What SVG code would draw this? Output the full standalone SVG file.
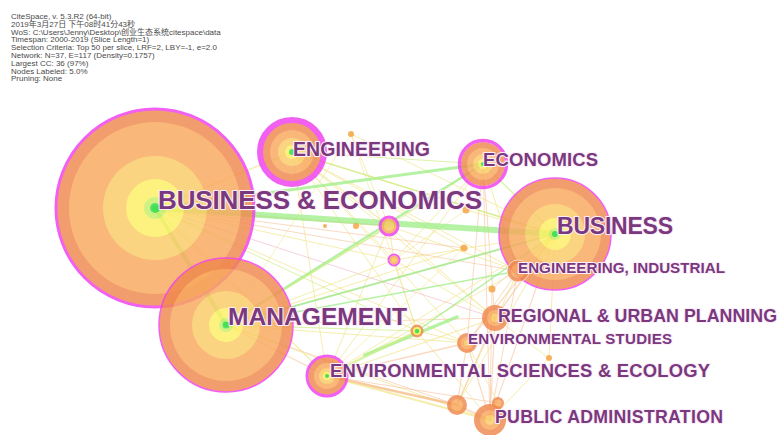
<svg xmlns="http://www.w3.org/2000/svg" width="780" height="435" viewBox="0 0 780 435">
  <style>
    .hdr { font-family: "Liberation Sans", "Noto Sans CJK SC", Arial, sans-serif; font-size: 8px; fill: #4a4a4a; }
    .lbl { font-family: "Liberation Sans", Arial, sans-serif; font-weight: bold; fill: #7a387d; stroke: #fbeefb; stroke-width: 2.2px; stroke-linejoin: round; paint-order: stroke; }
    .lk { fill: none; stroke-linecap: round; }
    .g { stroke: #9cee84; stroke-opacity: 0.75; }
    .yg { stroke: #cdee86; stroke-opacity: 0.7; }
    .y { stroke: #f1e58c; stroke-opacity: 0.7; }
    .o { stroke: #f6c29a; stroke-opacity: 0.6; }
    .oo { stroke: #f5ad6e; stroke-opacity: 0.65; }
    .pk { stroke: #f2b4c4; stroke-opacity: 0.6; }
    .node { opacity: 0.82; }
    .c1 { fill: #f0884e; }
    .c2 { fill: #f8a95e; }
    .c3 { fill: #fbcb66; }
    .c4 { fill: #fdf064; }
    .c5 { fill: #c6f06a; }
    .c6 { fill: #2fdc46; }
    .pr { fill: none; stroke: #f03ef0; }
    .dot { fill: #f5a241; }
  </style>

  <!-- run information -->
  <g id="run-info">
    <text class="hdr" x="11" y="19">CiteSpace, v. 5.3.R2 (64-bit)</text>
    <text class="hdr" x="11" y="26.8">2019年3月27日 下午08时41分43秒</text>
    <text class="hdr" x="11" y="34.6">WoS: C:\Users\Jenny\Desktop\创业生态系统citespace\data</text>
    <text class="hdr" x="11" y="42.4">Timespan: 2000-2019 (Slice Length=1)</text>
    <text class="hdr" x="11" y="50.2">Selection Criteria: Top 50 per slice, LRF=2, LBY=-1, e=2.0</text>
    <text class="hdr" x="11" y="58">Network: N=37, E=117 (Density=0.1757)</text>
    <text class="hdr" x="11" y="65.8">Largest CC: 36 (97%)</text>
    <text class="hdr" x="11" y="73.6">Nodes Labeled: 5.0%</text>
    <text class="hdr" x="11" y="81.4">Pruning: None</text>
  </g>

  <!-- co-occurrence links -->
  <g id="links">
    <!-- thin yellow / orange / pink mesh -->
    <line class="lk y" x1="292" y1="152" x2="389" y2="226" stroke-width="1.2"/>
    <line class="lk y" x1="292" y1="152" x2="394" y2="260" stroke-width="1"/>
    <line class="lk y" x1="292" y1="152" x2="555" y2="234" stroke-width="1.2"/>
    <line class="lk y" x1="292" y1="152" x2="518" y2="271" stroke-width="1"/>
    <line class="lk y" x1="292" y1="152" x2="495" y2="318" stroke-width="1"/>
    <line class="lk y" x1="292" y1="152" x2="417" y2="331" stroke-width="1"/>
    <line class="lk y" x1="292" y1="152" x2="464" y2="248" stroke-width="1"/>
    <line class="lk yg" x1="292" y1="152" x2="483" y2="164" stroke-width="1"/>
    <line class="lk y" x1="292" y1="152" x2="327" y2="376" stroke-width="1"/>
    <line class="lk y" x1="292" y1="152" x2="467" y2="343" stroke-width="1"/>
    <line class="lk y" x1="351" y1="134" x2="389" y2="226" stroke-width="1"/>
    <line class="lk y" x1="351" y1="134" x2="555" y2="234" stroke-width="1"/>
    <line class="lk y" x1="351" y1="134" x2="417" y2="331" stroke-width="0.8"/>
    <line class="lk y" x1="351" y1="134" x2="226" y2="325" stroke-width="0.8"/>
    <line class="lk y" x1="483" y1="164" x2="389" y2="226" stroke-width="1"/>
    <line class="lk y" x1="483" y1="164" x2="394" y2="260" stroke-width="1"/>
    <line class="lk y" x1="483" y1="164" x2="327" y2="376" stroke-width="1"/>
    <line class="lk o" x1="483" y1="164" x2="495" y2="318" stroke-width="1"/>
    <line class="lk o" x1="483" y1="164" x2="467" y2="343" stroke-width="1"/>
    <line class="lk o" x1="483" y1="164" x2="490" y2="420" stroke-width="1"/>
    <line class="lk yg" x1="483" y1="164" x2="555" y2="234" stroke-width="1.5"/>
    <line class="lk y" x1="483" y1="164" x2="518" y2="271" stroke-width="1"/>
    <line class="lk y" x1="389" y1="226" x2="394" y2="260" stroke-width="1.2"/>
    <line class="lk y" x1="389" y1="226" x2="518" y2="271" stroke-width="1"/>
    <line class="lk y" x1="389" y1="226" x2="495" y2="318" stroke-width="1"/>
    <line class="lk y" x1="389" y1="226" x2="226" y2="325" stroke-width="1"/>
    <line class="lk y" x1="389" y1="226" x2="327" y2="376" stroke-width="1"/>
    <line class="lk y" x1="394" y1="260" x2="417" y2="331" stroke-width="1"/>
    <line class="lk y" x1="394" y1="260" x2="495" y2="318" stroke-width="1"/>
    <line class="lk y" x1="394" y1="260" x2="555" y2="234" stroke-width="1"/>
    <line class="lk o" x1="155" y1="208" x2="389" y2="226" stroke-width="1.6"/>
    <line class="lk o" x1="155" y1="208" x2="464" y2="248" stroke-width="1"/>
    <line class="lk o" x1="155" y1="208" x2="518" y2="271" stroke-width="1"/>
    <line class="lk pk" x1="155" y1="208" x2="495" y2="318" stroke-width="1"/>
    <line class="lk y" x1="155" y1="208" x2="467" y2="343" stroke-width="1"/>
    <line class="lk yg" x1="155" y1="208" x2="417" y2="331" stroke-width="1"/>
    <line class="lk y" x1="155" y1="208" x2="394" y2="260" stroke-width="1"/>
    <line class="lk y" x1="155" y1="208" x2="327" y2="376" stroke-width="1.2"/>
    <line class="lk y" x1="155" y1="208" x2="292" y2="152" stroke-width="1.5"/>
    <line class="lk pk" x1="226" y1="325" x2="555" y2="234" stroke-width="1"/>
    <line class="lk y" x1="226" y1="325" x2="464" y2="248" stroke-width="1"/>
    <line class="lk o" x1="226" y1="325" x2="495" y2="318" stroke-width="1"/>
    <line class="lk y" x1="226" y1="325" x2="467" y2="343" stroke-width="1"/>
    <line class="lk o" x1="226" y1="325" x2="457" y2="405" stroke-width="1"/>
    <line class="lk y" x1="226" y1="325" x2="490" y2="420" stroke-width="1"/>
    <line class="lk y" x1="226" y1="325" x2="394" y2="260" stroke-width="1"/>
    <line class="lk yg" x1="226" y1="325" x2="417" y2="331" stroke-width="1.2"/>
    <line class="lk o" x1="226" y1="325" x2="327" y2="376" stroke-width="1.2"/>
    <line class="lk y" x1="327" y1="376" x2="555" y2="234" stroke-width="1"/>
    <line class="lk y" x1="327" y1="376" x2="518" y2="271" stroke-width="1"/>
    <line class="lk y" x1="327" y1="376" x2="495" y2="318" stroke-width="1.2"/>
    <line class="lk o" x1="327" y1="376" x2="467" y2="343" stroke-width="1.5"/>
    <line class="lk oo" x1="327" y1="376" x2="457" y2="405" stroke-width="2.5"/>
    <line class="lk y" x1="327" y1="376" x2="490" y2="420" stroke-width="2"/>
    <line class="lk o" x1="327" y1="376" x2="498" y2="403" stroke-width="1"/>
    <line class="lk o" x1="555" y1="234" x2="490" y2="420" stroke-width="1.2"/>
    <line class="lk o" x1="555" y1="234" x2="495" y2="318" stroke-width="1.5"/>
    <line class="lk o" x1="555" y1="234" x2="467" y2="343" stroke-width="1.2"/>
    <line class="lk y" x1="555" y1="234" x2="457" y2="405" stroke-width="1"/>
    <line class="lk o" x1="555" y1="234" x2="518" y2="271" stroke-width="1.5"/>
    <line class="lk y" x1="555" y1="234" x2="549" y2="358" stroke-width="1"/>
    <line class="lk o" x1="555" y1="234" x2="492" y2="289" stroke-width="1"/>
    <line class="lk y" x1="555" y1="234" x2="466" y2="210" stroke-width="1"/>
    <line class="lk o" x1="518" y1="271" x2="490" y2="420" stroke-width="1"/>
    <line class="lk y" x1="518" y1="271" x2="457" y2="405" stroke-width="1"/>
    <line class="lk o" x1="518" y1="271" x2="467" y2="343" stroke-width="1"/>
    <line class="lk o" x1="495" y1="318" x2="490" y2="420" stroke-width="1.2"/>
    <line class="lk o" x1="495" y1="318" x2="457" y2="405" stroke-width="1.2"/>
    <line class="lk y" x1="495" y1="318" x2="549" y2="358" stroke-width="1"/>
    <line class="lk o" x1="467" y1="343" x2="490" y2="420" stroke-width="1.2"/>
    <line class="lk o" x1="467" y1="343" x2="457" y2="405" stroke-width="1.2"/>
    <line class="lk y" x1="467" y1="343" x2="498" y2="403" stroke-width="1"/>
    <line class="lk o" x1="457" y1="405" x2="490" y2="420" stroke-width="1.5"/>
    <line class="lk y" x1="417" y1="331" x2="490" y2="420" stroke-width="1"/>
    <line class="lk y" x1="417" y1="331" x2="467" y2="343" stroke-width="1"/>
    <line class="lk o" x1="492" y1="289" x2="490" y2="420" stroke-width="1"/>
    <line class="lk y" x1="549" y1="358" x2="490" y2="420" stroke-width="1"/>
    <line class="lk y" x1="466" y1="210" x2="394" y2="260" stroke-width="0.8"/>
    <line class="lk y" x1="464" y1="248" x2="327" y2="376" stroke-width="0.8"/>

    <!-- heavier green links -->
    <line class="lk g" x1="155" y1="208" x2="555" y2="234" stroke-width="6"/>
    <line class="lk g" x1="155" y1="208" x2="226" y2="325" stroke-width="4"/>
    <line class="lk g" x1="155" y1="208" x2="483" y2="164" stroke-width="3"/>
    <line class="lk g" x1="226" y1="325" x2="483" y2="164" stroke-width="2.5"/>
    <line class="lk g" x1="226" y1="325" x2="555" y2="234" stroke-width="2"/>
    <line class="lk g" x1="226" y1="325" x2="518" y2="271" stroke-width="1.5"/>
    <line class="lk yg" x1="226" y1="325" x2="389" y2="226" stroke-width="1.5"/>
    <line class="lk g" x1="417" y1="331" x2="555" y2="234" stroke-width="1.5"/>
    <line class="lk yg" x1="292" y1="152" x2="555" y2="234" stroke-width="1.5"/>
    <line class="lk g" x1="365" y1="355" x2="457" y2="317" stroke-width="3.5"/>
    <line class="lk yg" x1="327" y1="376" x2="417" y2="331" stroke-width="2"/>
  </g>

  <!-- node rings -->
  <g id="n-business-economics" class="node">
    <circle class="c1" cx="155" cy="208" r="99"/>
    <circle class="c2" cx="155" cy="208" r="86"/>
    <circle class="c3" cx="155" cy="208" r="52"/>
    <circle class="c4" cx="155" cy="208" r="29"/>
    <circle class="c5" cx="155" cy="208" r="11"/>
    <circle class="c6" cx="155" cy="208" r="5"/>
    <circle class="pr" cx="155" cy="208" r="99" stroke-width="3"/>
  </g>

  <g id="n-management" class="node">
    <circle class="c1" cx="226" cy="325" r="67"/>
    <circle class="c2" cx="226" cy="325" r="56"/>
    <circle class="c3" cx="226" cy="325" r="34"/>
    <circle class="c4" cx="226" cy="325" r="17"/>
    <circle class="c5" cx="226" cy="325" r="7"/>
    <circle class="c6" cx="226" cy="325" r="3.5"/>
    <circle class="pr" cx="226" cy="325" r="67" stroke-width="1.5"/>
  </g>

  <g id="n-engineering" class="node">
    <circle class="c1" cx="292" cy="152" r="30"/>
    <circle class="c2" cx="292" cy="152" r="22"/>
    <circle class="c3" cx="292" cy="152" r="14"/>
    <circle class="c4" cx="292" cy="152" r="7"/>
    <circle class="c6" cx="292" cy="152" r="3"/>
    <circle class="pr" cx="292" cy="152" r="32" stroke-width="6"/>
  </g>

  <g id="n-economics" class="node">
    <circle class="c1" cx="483" cy="164" r="22"/>
    <circle class="c2" cx="483" cy="164" r="16"/>
    <circle class="c3" cx="483" cy="164" r="10"/>
    <circle class="c4" cx="483" cy="164" r="5"/>
    <circle class="c6" cx="483" cy="164" r="2"/>
    <circle class="pr" cx="483" cy="164" r="23.5" stroke-width="3.5"/>
  </g>

  <g id="n-business" class="node">
    <circle class="c1" cx="555" cy="234" r="56"/>
    <circle class="c2" cx="555" cy="234" r="46"/>
    <circle class="c3" cx="555" cy="234" r="30"/>
    <circle class="c4" cx="555" cy="234" r="16"/>
    <circle class="c5" cx="555" cy="234" r="6"/>
    <circle class="c6" cx="555" cy="234" r="3"/>
    <circle class="pr" cx="555" cy="234" r="56" stroke-width="1.5"/>
  </g>

  <g id="n-hub-a" class="node">
    <circle class="c2" cx="389" cy="226" r="8"/>
    <circle class="c3" cx="389" cy="226" r="5"/>
    <circle class="pr" cx="389" cy="226" r="9" stroke-width="3"/>
  </g>

  <g id="n-hub-b" class="node">
    <circle class="c2" cx="394" cy="260" r="4.5"/>
    <circle class="c3" cx="394" cy="260" r="2.5"/>
    <circle class="pr" cx="394" cy="260" r="5.5" stroke-width="2"/>
  </g>

  <g id="n-engineering-industrial" class="node">
    <circle class="c1" cx="518" cy="271" r="11"/>
    <circle class="c2" cx="518" cy="271" r="7"/>
    <circle fill="none" stroke="#fbe3d4" stroke-width="1" cx="518" cy="271" r="11"/>
  </g>

  <g id="n-regional-urban" class="node">
    <circle class="c1" cx="495" cy="318" r="13"/>
    <circle class="c2" cx="495" cy="318" r="8"/>
    <circle class="c3" cx="495" cy="318" r="4"/>
  </g>

  <g id="n-environmental-studies" class="node">
    <circle class="c1" cx="467" cy="343" r="10"/>
    <circle class="c2" cx="467" cy="343" r="6.5"/>
    <circle class="c3" cx="467" cy="343" r="3"/>
  </g>

  <g id="n-env-sciences" class="node">
    <circle class="c1" cx="327" cy="376" r="19"/>
    <circle class="c2" cx="327" cy="376" r="13"/>
    <circle class="c3" cx="327" cy="376" r="8"/>
    <circle class="c4" cx="327" cy="376" r="4"/>
    <circle class="c6" cx="327" cy="376" r="2"/>
    <circle class="pr" cx="327" cy="376" r="20" stroke-width="3"/>
  </g>

  <g id="n-public-admin" class="node">
    <circle class="c1" cx="490" cy="420" r="16"/>
    <circle class="c2" cx="490" cy="420" r="10"/>
    <circle class="c3" cx="490" cy="420" r="5"/>
  </g>

  <g id="n-minor-a" class="node">
    <circle class="c1" cx="457" cy="405" r="10"/>
    <circle class="c2" cx="457" cy="405" r="6"/>
  </g>

  <g id="n-minor-b" class="node">
    <circle class="c1" cx="498" cy="403" r="6"/>
    <circle class="c2" cx="498" cy="403" r="3.5"/>
  </g>

  <g id="n-minor-c" class="node">
    <circle class="c1" cx="417" cy="331" r="6.5"/>
    <circle class="c4" cx="417" cy="331" r="4"/>
    <circle class="c6" cx="417" cy="331" r="2.2"/>
  </g>

  <g id="n-dots" class="node">
    <circle class="dot" cx="351" cy="134" r="3"/>
    <circle class="dot" cx="466" cy="210" r="3.5"/>
    <circle class="dot" cx="464" cy="248" r="3.5"/>
    <circle class="dot" cx="492" cy="289" r="3.5"/>
    <circle class="dot" cx="356" cy="226" r="3"/>
    <circle class="dot" cx="325" cy="226" r="2"/>
    <circle class="dot" cx="549" cy="358" r="3"/>
  </g>

  <!-- labels -->
  <g id="labels">
    <text class="lbl" x="158" y="209" font-size="26" textLength="324">BUSINESS &amp; ECONOMICS</text>
    <text class="lbl" x="293" y="156" font-size="19.5" textLength="137">ENGINEERING</text>
    <text class="lbl" x="483" y="166" font-size="18.5" textLength="115">ECONOMICS</text>
    <text class="lbl" x="557" y="234" font-size="23" textLength="116">BUSINESS</text>
    <text class="lbl" x="518" y="273" font-size="15.2" textLength="207">ENGINEERING, INDUSTRIAL</text>
    <text class="lbl" x="228" y="325" font-size="24.6" textLength="179">MANAGEMENT</text>
    <text class="lbl" x="498" y="322" font-size="17.8" textLength="279">REGIONAL &amp; URBAN PLANNING</text>
    <text class="lbl" x="468" y="344" font-size="15.1" textLength="204">ENVIRONMENTAL STUDIES</text>
    <text class="lbl" x="330" y="377" font-size="18.4" textLength="380">ENVIRONMENTAL SCIENCES &amp; ECOLOGY</text>
    <text class="lbl" x="495" y="423" font-size="17.7" textLength="228">PUBLIC ADMINISTRATION</text>
  </g>
</svg>
